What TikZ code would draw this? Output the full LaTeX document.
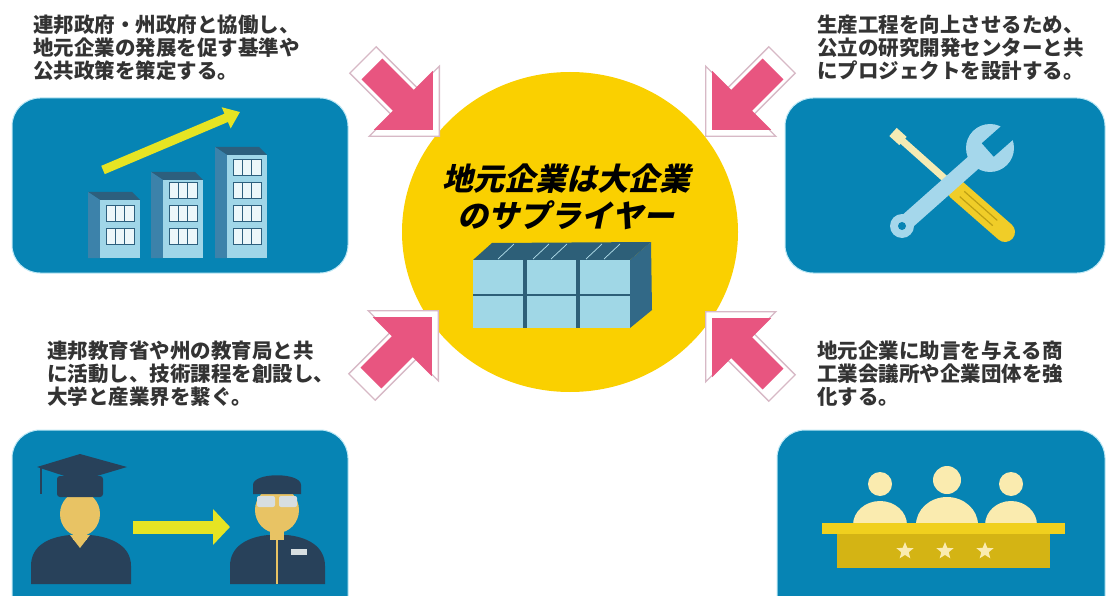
\documentclass[tikz,border=0pt]{standalone}
\usepackage{fontspec}
\setmainfont{Noto Sans CJK JP}
\newfontfamily\slantjp{Noto Sans CJK JP}[FakeSlant=0.22,BoldFeatures={FakeSlant=0.22}]
\usetikzlibrary{shapes.arrows,shapes.geometric,arrows.meta}

\definecolor{panelblue}{RGB}{6,132,180}
\definecolor{panelrim}{RGB}{190,232,245}
\definecolor{captiongray}{RGB}{51,51,51}
\definecolor{hubyellow}{RGB}{250,208,0}
\definecolor{pushpink}{RGB}{232,85,128}
\definecolor{pushrim}{RGB}{215,185,198}
\definecolor{frontblue}{RGB}{160,214,232}
\definecolor{sideblue}{RGB}{60,130,170}
\definecolor{roofblue}{RGB}{45,95,125}
\definecolor{growyellow}{RGB}{230,228,35}
\definecolor{navy}{RGB}{40,65,90}
\definecolor{skin}{RGB}{232,195,100}
\definecolor{glassgray}{RGB}{215,222,225}
\definecolor{cream}{RGB}{250,235,175}
\definecolor{deskyellow}{RGB}{240,208,30}
\definecolor{deskfront}{RGB}{212,180,20}
\definecolor{wrenchblue}{RGB}{165,215,235}
\definecolor{screwcream}{RGB}{245,235,180}
\definecolor{handleyellow}{RGB}{240,205,40}
\definecolor{handleline}{RGB}{190,160,20}
\definecolor{cubelight}{RGB}{160,215,230}
\definecolor{cubetop}{RGB}{45,95,120}
\definecolor{cubeside}{RGB}{50,105,135}

\tikzset{
  panel/.style={fill=panelblue, draw=panelrim, line width=1pt, rounded corners=28pt},
  caption/.style={anchor=north west, inner sep=0pt, align=left, text=captiongray,
    font=\bfseries\fontsize{20.5}{23}\selectfont},
  hubtext/.style={anchor=north, inner sep=0pt, align=center, text=black,
    font=\slantjp\bfseries\fontsize{31}{37}\selectfont},
  pushfill/.style={single arrow, anchor=tip, fill=pushpink, inner xsep=0pt, inner ysep=14.5pt,
    single arrow head extend=27pt, minimum height=86pt},
  pushrim/.style={single arrow, anchor=tip, fill=white, draw=pushrim, line width=1.3pt,
    inner xsep=0pt, inner ysep=18pt, single arrow head extend=31pt, minimum height=108pt},
  growth/.style={draw=growyellow, line width=#1},
}

\begin{document}
\begin{tikzpicture}[x=1pt, y=-1pt]
    \useasboundingbox (0,0) rectangle (1108,596);

    % Panels
    \path[panel] (12,98) rectangle (348,273);
    \path[panel] (785,98) rectangle (1105,273);
    \path[panel] (12,430) rectangle (348,630);
    \path[panel] (777,430) rectangle (1105,630);

    % Captions
    \node[caption] (textPolicy) at (33,15) {連邦政府・州政府と協働し、\\地元企業の発展を促す基準や\\公共政策を策定する。};
    \node[caption] (textProjects) at (817,15) {生産工程を向上させるため、\\公立の研究開発センターと共\\にプロジェクトを設計する。};
    \node[caption] (textEducation) at (47,341) {連邦教育省や州の教育局と共\\に活動し、技術課程を創設し、\\大学と産業界を繋ぐ。};
    \node[caption] (textChamber) at (817,341) {地元企業に助言を与える商\\工業会議所や企業団体を強\\化する。};

    % Hub
    \node[ellipse, fill=hubyellow, minimum width=336pt, minimum height=320pt, inner sep=0pt] (hub) at (570,232) {};
    \node[hubtext] (hubText) at (566,164) {地元企業は大企業\\のサプライヤー};

    % Supplier block
    \fill[cubeside] (630,260) -- (651,242) -- (652,310) -- (630,328) -- cycle;
    \fill[cubetop] (473,260) -- (492,243) -- (651,242) -- (630,260) -- cycle;
    \foreach \sx in {498,533,551,586,604}
        \draw[cubelight!80!white, line width=0.7pt] (\sx,259) -- (\sx+16,244);
    \fill[cubelight] (473,260) rectangle (630,328);
    \draw[cubetop, line width=4pt] (525,258) -- (525,328) (578,258) -- (578,328);
    \draw[cubetop, line width=2.5pt] (473,295) -- (630,295);

    % Buildings
    \foreach \bx/\btop/\rows in {100/200/2, 163/180/3, 227/155/4} {
        \fill[roofblue] (\bx-12,\btop-8) -- (\bx+32,\btop-8) -- (\bx+40,\btop) -- (\bx,\btop) -- cycle;
        \fill[sideblue] (\bx-12,\btop-8) -- (\bx,\btop) -- (\bx,258) -- (\bx-12,258) -- cycle;
        \fill[frontblue] (\bx,\btop) rectangle (\bx+40,258);
        \foreach \r in {1,...,\rows} {
            \draw[roofblue, line width=0.8pt, fill=white!80!frontblue] (\bx+6,251-23*\r) rectangle (\bx+34,267-23*\r);
            \draw[roofblue, line width=0.8pt] (\bx+15.3,251-23*\r) -- (\bx+15.3,267-23*\r) (\bx+24.7,251-23*\r) -- (\bx+24.7,267-23*\r);
        }
    }
    \draw[growth=9pt, -{Triangle[width=22pt,length=15pt]}] (103,170) -- (240,112);

    % Screwdriver
    \draw[screwcream, line width=7pt] (897,136) -- (952,185);
    \draw[screwcream, line width=11pt] (893,132) -- (903,141);
    \draw[handleyellow, line width=20pt, line cap=round] (957,190) -- (1005,232);
    \draw[handleline, line width=1.2pt] (964.3,191.4) -- (997.3,220.4) (959.7,196.6) -- (992.7,225.6);

    % Wrench
    \draw[wrenchblue, line width=16pt, line cap=round] (902,226) -- (982,155);
    \fill[wrenchblue] (902,226) circle (12);
    \fill[panelblue] (902,226) circle (4);
    \fill[wrenchblue] (990,148) circle (24);
    \fill[panelblue, rotate around={41.5:(990,148)}] (987,139) rectangle (1022,157);

    % Graduate
    \fill[navy] (31,584) -- (31,566) .. controls (31,546) and (48,537) .. (70,535) -- (90,535) .. controls (112,537) and (131,546) .. (131,566) -- (131,584) -- cycle;
    \fill[skin] (73,525) rectangle (87,540);
    \fill[skin] (70,535) -- (90,535) -- (80,548) -- cycle;
    \fill[skin] (80,514) ellipse [x radius=20, y radius=22];
    \fill[navy, rounded corners=3pt] (57,476) rectangle (103,497);
    \fill[navy] (37,467) -- (80,454) -- (127,467) -- (80,481) -- cycle;
    \draw[navy, line width=2pt] (41,467) -- (41,494);

    % Worker
    \fill[navy] (230,584) -- (230,566) .. controls (230,546) and (248,537) .. (268,535) -- (287,535) .. controls (307,537) and (325,546) .. (325,566) -- (325,584) -- cycle;
    \fill[skin] (270,525) rectangle (284,540);
    \fill[skin] (277,510) ellipse [x radius=22, y radius=23];
    \fill[navy] (253,494) -- (253,485) .. controls (253,472) and (301,472) .. (301,485) -- (301,494) -- cycle;
    \fill[glassgray, rounded corners=2pt] (257,496) rectangle (275,507);
    \fill[glassgray, rounded corners=2pt] (279,496) rectangle (297,507);
    \draw[skin, line width=1.2pt] (277,540) -- (277,584);
    \fill[glassgray] (291,549) rectangle (307,555);
    \draw[growth=13pt, -{Triangle[width=35pt,length=17pt]}] (133,527) -- (230,527);

    % Council
    \foreach \px/\py/\hr/\bw/\bh in {880/484/12/27/24, 947/480/14/31/28, 1011/484/12/26/24} {
        \fill[cream] (\px-\bw,525) arc[start angle=180, end angle=360, x radius=\bw, y radius=\bh] -- cycle;
        \fill[cream] (\px,\py) circle (\hr);
    }
    \fill[deskyellow] (822,523) rectangle (1065,534);
    \fill[deskfront] (837,534) rectangle (1050,568);
    \foreach \sx [count=\k] in {905,945,985}
        \node[star, star points=5, star point ratio=2.3, minimum size=18pt, inner sep=0pt, fill=cream] (star\k) at (\sx,551) {};

    % Arrows into the hub
    \node[pushrim, rotate=-45] (rimPolicy) at (440,137) {};
    \node[pushfill, rotate=-45] (pushPolicy) at (433,130) {};
    \node[pushrim, rotate=-135] (rimProjects) at (705,137) {};
    \node[pushfill, rotate=-135] (pushProjects) at (712,130) {};
    \node[pushrim, rotate=45] (rimEducation) at (439,310) {};
    \node[pushfill, rotate=45] (pushEducation) at (432,317) {};
    \node[pushrim, rotate=135] (rimChamber) at (705,311) {};
    \node[pushfill, rotate=135] (pushChamber) at (712,318) {};
\end{tikzpicture}
\end{document}
